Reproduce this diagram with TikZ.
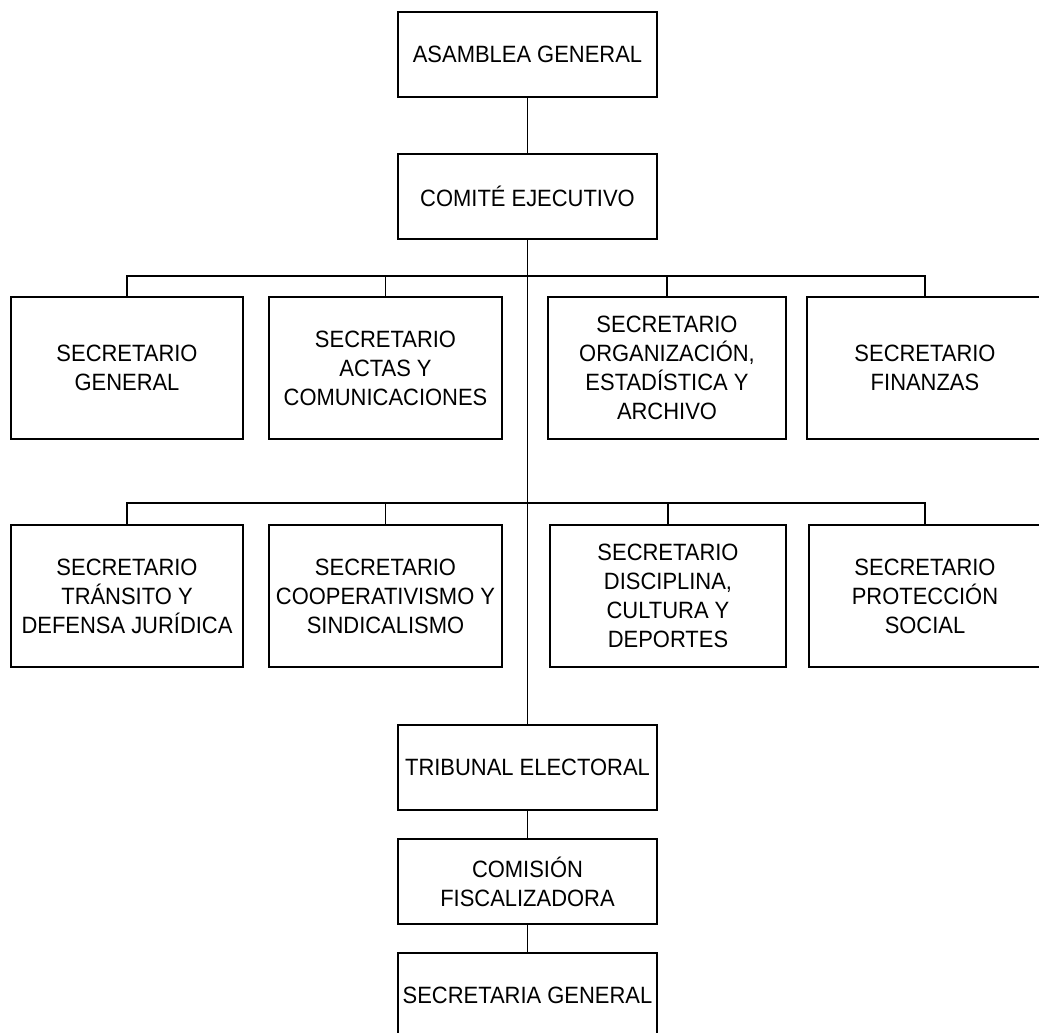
\documentclass[tikz,border=0pt]{standalone}
\usepackage{fontspec}
\setmainfont{Liberation Sans}[FakeStretch=0.93]
\begin{document}
\begin{tikzpicture}[x=1pt,y=-1pt,
  box/.style={draw,line width=1.1pt,rectangle,inner sep=0pt,align=center,
    font=\fontsize{23.6}{29}\selectfont},
  wide/.style={box,minimum width=259pt,minimum height=85pt},
  sec/.style={box,minimum height=142pt},
  link/.style={line width=1.1pt}]
\useasboundingbox (0,0) rectangle (1039,1033);
\node[wide] (ag) at (527.5,54.5) {ASAMBLEA GENERAL};
\node[wide] (ce) at (527.5,196.5) {COMITÉ EJECUTIVO};
\node[sec,minimum width=232pt] (r1a) at (127,368) {SECRETARIO\\GENERAL};
\node[sec,minimum width=233pt] (r1b) at (385.5,368) {SECRETARIO\\ACTAS Y\\COMUNICACIONES};
\node[sec,minimum width=238pt] (r1c) at (667,368) {SECRETARIO\\ORGANIZACIÓN,\\ESTADÍSTICA Y\\ARCHIVO};
\node[sec,minimum width=236pt] (r1d) at (925,368) {SECRETARIO\\FINANZAS};
\node[sec,minimum width=232pt] (r2a) at (127,596) {SECRETARIO\\TRÁNSITO Y\\DEFENSA JURÍDICA};
\node[sec,minimum width=233pt] (r2b) at (385.5,596) {SECRETARIO\\COOPERATIVISMO Y\\SINDICALISMO};
\node[sec,minimum width=236pt] (r2c) at (668,596) {SECRETARIO\\DISCIPLINA,\\CULTURA Y\\DEPORTES};
\node[sec,minimum width=232pt] (r2d) at (925,596) {SECRETARIO\\PROTECCIÓN\\SOCIAL};
\node[wide] (te) at (527.5,767.5) {TRIBUNAL ELECTORAL};
\node[wide] (cf) at (527.5,881.5) {COMISIÓN\\FISCALIZADORA};
\node[wide] (sg) at (527.5,995.5) {SECRETARIA GENERAL};
\coordinate (b1) at (527.5,276);
\coordinate (b2) at (527.5,503);
\draw[link] (ag) -- (ce);
\draw[link] (ce) -- (te);
\draw[link] (te) -- (cf);
\draw[link] (cf) -- (sg);
\foreach \n in {r1a,r1b,r1c,r1d} \draw[link] (\n.north) |- (b1);
\foreach \n in {r2a,r2b,r2c,r2d} \draw[link] (\n.north) |- (b2);
\end{tikzpicture}
\end{document}
